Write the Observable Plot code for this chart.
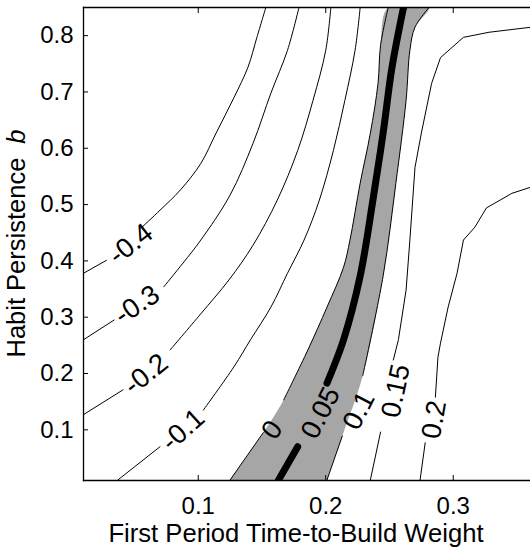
<!DOCTYPE html>
<html><head><meta charset="utf-8">
<script src="https://cdn.jsdelivr.net/npm/d3@7"></script>
<script src="https://cdn.jsdelivr.net/npm/@observablehq/plot@0.6"></script>
<style>
html,body{margin:0;padding:0;background:#fff;overflow:hidden}
svg{display:block}
</style></head><body><div id="chart"></div>
<script>
// ---- data ----
const xTicks = [0.1, 0.2, 0.3];
const yTicks = [0.1, 0.2, 0.3, 0.4, 0.5, 0.6, 0.7, 0.8];
const xLabel = "First Period Time-to-Build Weight";
const yLabelMain = "Habit Persistence";
const yLabelVar = "b";

// contour lines as [x, y] pairs; null = break left for the inline label
const cMinus04 = [[0.010,0.378],[0.028,0.401],null,[0.055,0.458],[0.070,0.490],[0.086,0.526],[0.102,0.573],[0.114,0.627],[0.128,0.690],[0.139,0.744],[0.146,0.797],[0.153,0.850]];
const cMinus03 = [[0.010,0.260],[0.034,0.295],null,[0.073,0.354],[0.088,0.396],[0.102,0.437],[0.125,0.517],[0.143,0.609],[0.157,0.698],[0.170,0.774],[0.179,0.850]];
const cMinus02 = [[0.010,0.127],[0.041,0.171],null,[0.078,0.242],[0.102,0.306],[0.124,0.366],[0.143,0.428],[0.162,0.508],[0.178,0.596],[0.190,0.685],[0.200,0.774],[0.204,0.850]];
const cMinus01 = [[0.037,0.011],[0.070,0.070],null,[0.104,0.135],[0.128,0.212],[0.141,0.260],[0.157,0.318],[0.170,0.378],[0.183,0.437],[0.195,0.508],[0.206,0.596],[0.215,0.685],[0.223,0.774],[0.227,0.850]];
const cZero    = [[0.125,0.011],[0.151,0.095],null,[0.167,0.153],[0.186,0.242],[0.201,0.318],[0.214,0.389],[0.219,0.437],[0.227,0.538],[0.235,0.627],[0.241,0.715],[0.243,0.783],[0.249,0.850]];
const cPlus005 = [[0.163,0.011],[0.178,0.070],null,[0.201,0.183],[0.214,0.260],[0.227,0.373],[0.237,0.508],[0.245,0.627],[0.252,0.744],[0.261,0.850]];
const cPlus010 = [[0.201,0.011],[0.213,0.089],null,[0.229,0.196],[0.245,0.373],[0.255,0.538],[0.263,0.685],[0.266,0.774],[0.270,0.815],[0.281,0.850]];
const cPlus015 = [[0.235,0.011],[0.243,0.096],null,[0.253,0.224],[0.257,0.260],[0.263,0.348],[0.266,0.437],[0.270,0.566],[0.275,0.627],[0.283,0.715],[0.290,0.761],[0.308,0.797],[0.328,0.806],[0.361,0.815]];
const cPlus020 = [[0.274,0.011],[0.278,0.077],null,[0.286,0.158],[0.288,0.229],[0.290,0.254],[0.296,0.318],[0.303,0.378],[0.308,0.437],[0.317,0.460],[0.326,0.494],[0.346,0.520],[0.361,0.531]];

const smoothLevels = [-0.4, -0.3, -0.2, -0.1, 0, 0.1];
const smoothLines  = [cMinus04, cMinus03, cMinus02, cMinus01, cZero, cPlus010];
const angularLevels = [0.15, 0.2];
const angularLines  = [cPlus015, cPlus020];

// inline contour labels
const labelText  = ["-0.4", "-0.3", "-0.2", "-0.1", "0", "0.05", "0.1", "0.15", "0.2"];
const labelX     = [0.047, 0.052, 0.059, 0.088, 0.158, 0.196, 0.226, 0.255, 0.285];
const labelY     = [0.430, 0.322, 0.199, 0.100, 0.100, 0.130, 0.134, 0.169, 0.118];
const labelAngle = [-38, -34, -39, -42, -55, -63, -63, -78, -80];

// ---- build tables ----
const toRows = (pts, level) => pts.map(p => p ? {x: p[0], y: p[1], level} : {x: NaN, y: NaN, level});
const smoothRows = smoothLines.flatMap((pts, i) => toRows(pts, smoothLevels[i]));
const angularRows = angularLines.flatMap((pts, i) => toRows(pts, angularLevels[i]));
const thickRows = toRows(cPlus005, 0.05);
// shaded band between the 0 and 0.1 contours
const bandLeft = cZero.filter(Boolean).map(p => ({x: p[0], y: p[1]}));
const bandRight = cPlus010.filter(Boolean).map(p => ({x: p[0], y: p[1]}));
const labels = labelText.map((t, i) => ({text: t, x: labelX[i], y: labelY[i], angle: labelAngle[i]}));

const FONT = "'Liberation Sans', Arial, Helvetica, sans-serif";

const chart = Plot.plot({
  width: 530,
  height: 552,
  marginLeft: 83,
  marginRight: 0,
  marginTop: 7,
  marginBottom: 72,
  style: {fontFamily: FONT, fontSize: "24px", background: "#fff", color: "#000"},
  x: {domain: [0.01, 0.3606], ticks: xTicks},
  y: {domain: [0.01, 0.85], ticks: yTicks},
  marks: [
    Plot.line([...bandLeft, ...bandRight.slice().reverse()], {x: "x", y: "y", fill: "#a6a6a6", stroke: "none", curve: "catmull-rom", clip: true}),
    Plot.line(smoothRows, {x: "x", y: "y", z: "level", stroke: "#000", strokeWidth: 1, curve: "catmull-rom", clip: true}),
    Plot.line(angularRows, {x: "x", y: "y", z: "level", stroke: "#000", strokeWidth: 1, clip: true}),
    Plot.line(thickRows, {x: "x", y: "y", stroke: "#000", strokeWidth: 7, curve: "catmull-rom", clip: true}),
    Plot.text(labels, {x: "x", y: "y", text: "text", rotate: "angle", fontSize: 27.5, fill: "#000"}),
    Plot.frame({anchor: "left", strokeWidth: 1.3}),
    Plot.frame({anchor: "top", strokeWidth: 1.3}),
    Plot.frame({anchor: "bottom", strokeWidth: 1.3}),
    Plot.axisY({ticks: yTicks, tickSize: -5, tickPadding: 15, tickFormat: ".1f", label: null}),
    Plot.axisX({anchor: "bottom", ticks: xTicks, tickSize: -5, tickPadding: 21, tickFormat: ".1f", label: null}),
    Plot.axisX({anchor: "top", ticks: xTicks, tickSize: -5, tickFormat: () => "", label: null})
  ]
});
document.getElementById("chart").appendChild(chart);

// axis titles (real text; italic variable name)
const svg = d3.select(chart);
svg.append("text")
  .attr("x", 296).attr("y", 542)
  .attr("text-anchor", "middle")
  .attr("font-family", FONT).attr("font-size", 25.6).attr("fill", "#000")
  .text(xLabel);
const yl = svg.append("text")
  .attr("transform", "translate(25,243.5) rotate(-90)")
  .attr("text-anchor", "middle")
  .attr("font-family", FONT).attr("font-size", 25.5).attr("fill", "#000");
yl.append("tspan").text(yLabelMain);
yl.append("tspan").attr("dx", 14).attr("font-style", "italic").text(yLabelVar);
</script>
</body></html>
